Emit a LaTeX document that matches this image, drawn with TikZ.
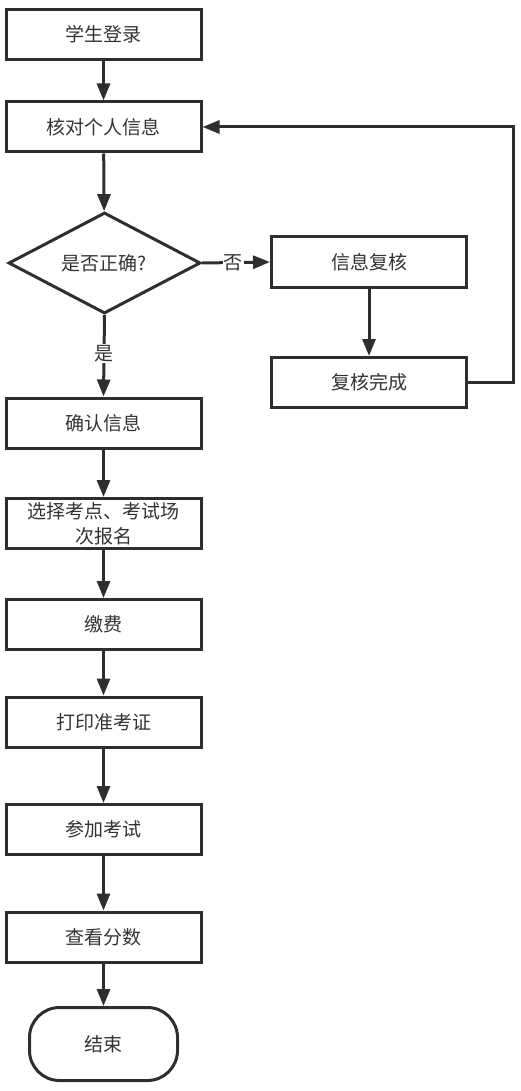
\documentclass[tikz,border=0pt]{standalone}
\usepackage{fontspec}
\setmainfont{Noto Sans CJK SC}
\usetikzlibrary{arrows.meta,shapes.geometric}
\definecolor{ln}{HTML}{2E2E2E}
\definecolor{tx}{HTML}{333333}
\tikzset{
  stepbox/.style={draw=ln, line width=3pt, rectangle, minimum width=195pt, minimum height=50pt, inner sep=0pt, text=tx, font=\fontsize{19}{25}\selectfont, align=center},
  decide/.style={draw=ln, line width=3pt, diamond, aspect=1.9, minimum width=192pt, minimum height=101pt, inner sep=0pt, text=tx, font=\fontsize{19}{25}\selectfont},
  endbox/.style={draw=ln, line width=3pt, rectangle, rounded corners=30pt, minimum width=148pt, minimum height=73pt, inner sep=0pt, text=tx, font=\fontsize{19}{25}\selectfont},
  conn/.style={draw=ln, line width=3pt, -{Triangle[length=17pt,width=13pt]}},
  lbl/.style={fill=white, text=tx, inner sep=1pt, font=\fontsize{19}{25}\selectfont}
}
\begin{document}
\begin{tikzpicture}[x=1pt,y=-1pt]
\useasboundingbox (0,0) rectangle (520,1091);
\node[stepbox] (n1) at (103.5,34.5) {学生登录};
\node[stepbox] (n2) at (103.5,127) {核对个人信息};
\node[decide] (d) at (104.5,263) {是否正确?};
\node[stepbox] (r1) at (369,262) {信息复核};
\node[stepbox] (r2) at (369,382.5) {复核完成};
\node[stepbox] (n3) at (103.5,423) {确认信息};
\node[stepbox] (n4) at (103.5,523.5) {选择考点、考试场\\次报名};
\node[stepbox] (n5) at (103.5,624.5) {缴费};
\node[stepbox] (n6) at (103.5,722) {打印准考证};
\node[stepbox] (n7) at (103.5,829.5) {参加考试};
\node[stepbox] (n8) at (103.5,937) {查看分数};
\node[endbox] (e) at (103.5,1044) {结束};
\coordinate (c1) at (513,382.5);
\coordinate (c2) at (513,127);
\draw[conn] (n1) -- (n2);
\draw[conn] (n2) -- (d);
\draw[conn] (d.east) -- (r1.west) node[lbl, pos=0.46] {否};
\draw[conn] (r1) -- (r2);
\draw[conn] (r2.east) -- (c1) -- (c2) -- (n2.east);
\draw[conn] (d.south) -- (n3.north) node[lbl, pos=0.47] {是};
\draw[conn] (n3) -- (n4);
\draw[conn] (n4) -- (n5);
\draw[conn] (n5) -- (n6);
\draw[conn] (n6) -- (n7);
\draw[conn] (n7) -- (n8);
\draw[conn] (n8) -- (e);
\end{tikzpicture}
\end{document}
